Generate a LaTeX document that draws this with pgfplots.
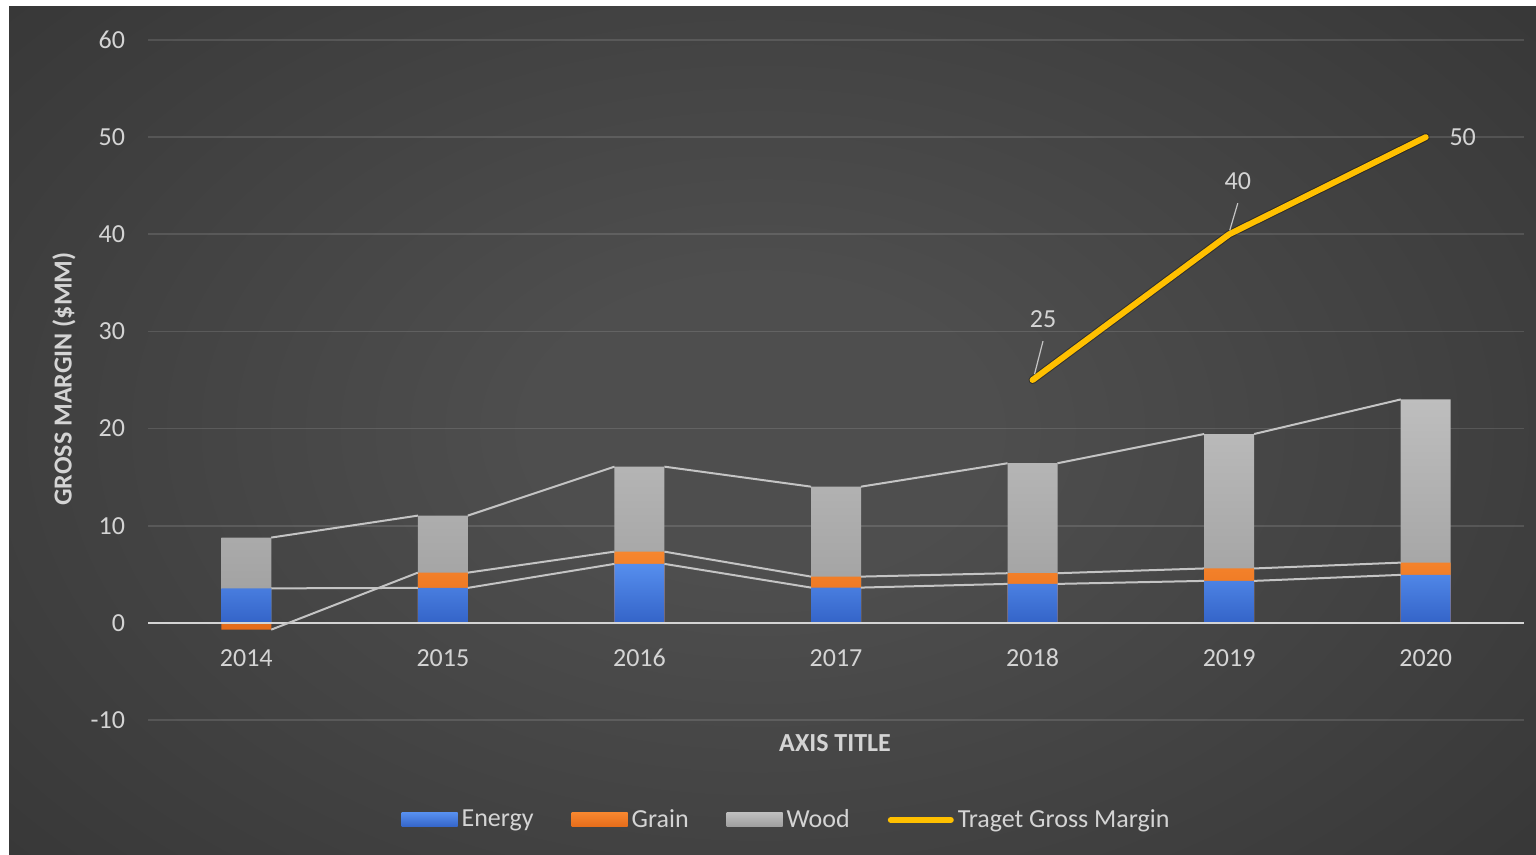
\documentclass[border=0pt]{standalone}
\usepackage{pgfplots}
\pgfplotsset{compat=1.18}
\usepackage{pgfplotstable}
\usepackage{fontspec}
\setmainfont{Carlito}
\definecolor{bgin}{HTML}{4E4E4E}
\definecolor{bgout}{HTML}{1E1E1E}
\definecolor{tickc}{HTML}{D4D4D4}
\definecolor{serc}{HTML}{C4C4C4}
\definecolor{etop}{HTML}{568EEE}
\definecolor{ebot}{HTML}{3464C8}
\definecolor{gtop}{HTML}{F7862E}
\definecolor{gbot}{HTML}{E56C1A}
\definecolor{wtop}{HTML}{BEBEBE}
\definecolor{wbot}{HTML}{9E9E9E}
\definecolor{yel}{HTML}{FFC000}
\pgfdeclareradialshading{bgshade}{\pgfpoint{0bp}{0bp}}{color(0bp)=(bgin); color(6bp)=(bgin); color(50bp)=(bgout)}
\pgfplotstableread{
x E G W
0 3.55 -0.70 5.23
1 3.60 1.57 5.87
2 6.07 1.26 8.75
3 3.63 1.13 9.26
4 4.01 1.10 11.32
5 4.32 1.28 13.84
6 4.94 1.26 16.80
}\gm
\newcommand{\fs}{\fontsize{13}{15}\selectfont}
\begin{document}
\begin{tikzpicture}
\fill[white] (0pt,0pt) rectangle (768pt,427.5pt);
\begin{scope}
\clip (4.5pt,0pt) rectangle (768pt,424pt);
\shade[shading=bgshade] (-95pt,-97.5pt) rectangle (855pt,522.5pt);
\end{scope}
\begin{axis}[
  at={(74pt,67.5pt)}, anchor=south west, scale only axis,
  width=688pt, height=340pt,
  xmin=-0.5, xmax=6.5, ymin=-10, ymax=60,
  xtick={0,1,2,3,4,5,6},
  xticklabels={2014,2015,2016,2017,2018,2019,2020},
  ytick={-10,0,10,20,30,40,50,60},
  axis line style={draw=none}, major tick style={draw=none},
  ymajorgrids, grid style={line width=0.9pt, white, opacity=0.12},
  tick label style={font=\fs, text=tickc},
  /pgf/number format/assume math mode=true,
  xticklabel style={anchor=center, yshift=31pt},
  yticklabel style={xshift=-8pt},
  unbounded coords=jump,
  legend style={at={(0.4648,-0.147)}, anchor=center, draw=none, fill=none,
    font=\fs, text=tickc, legend columns=4,
    /tikz/every even column/.append style={column sep=17pt}},
  legend cell align=left,
]
% legend entries
\addlegendimage{draw=none, legend image code/.code={\path[draw=none, top color=etop, bottom color=ebot] (0pt,-3.5pt) rectangle (28pt,3.5pt);}}
\addlegendentry{Energy}
\addlegendimage{draw=none, legend image code/.code={\path[draw=none, top color=gtop, bottom color=gbot] (0pt,-3.5pt) rectangle (28pt,3.5pt);}}
\addlegendentry{Grain}
\addlegendimage{draw=none, legend image code/.code={\path[draw=none, top color=wtop, bottom color=wbot] (0pt,-3.5pt) rectangle (28pt,3.5pt);}}
\addlegendentry{Wood}
\addlegendimage{draw=none, legend image code/.code={\draw[yel, line width=3pt, line cap=round] (0pt,0pt) -- (30pt,0pt);}}
\addlegendentry{Traget Gross Margin}
% bars (Excel-style stacking, negatives below zero)
\addplot[ybar, bar width=25pt, bar shift=0pt, draw=none, top color=wtop, bottom color=wbot, forget plot]
  table[x=x, y expr={\thisrow{E}+max(\thisrow{G},0)+\thisrow{W}}] {\gm};
\addplot[ybar, bar width=25pt, bar shift=0pt, draw=none, top color=gtop, bottom color=gbot, forget plot]
  table[x=x, y expr={ifthenelse(\thisrow{G}<0,\thisrow{G},\thisrow{E}+\thisrow{G})}] {\gm};
\addplot[ybar, bar width=25pt, bar shift=0pt, draw=none, top color=etop, bottom color=ebot, forget plot]
  table[x=x, y=E] {\gm};
% zero line
\draw[tickc, line width=1.2pt] (axis cs:-0.5,0) -- (axis cs:6.5,0);
% series lines
\addplot[serc, line width=1pt, forget plot] coordinates {
 (0.127,3.55) (0.873,3.60) (1,nan) (1.127,3.60) (1.873,6.07) (2,nan)
 (2.127,6.07) (2.873,3.63) (3,nan) (3.127,3.63) (3.873,4.01) (4,nan)
 (4.127,4.01) (4.873,4.32) (5,nan) (5.127,4.32) (5.873,4.94)};
\addplot[serc, line width=1pt, forget plot] coordinates {
 (0.127,-0.70) (0.873,5.17) (1,nan) (1.127,5.17) (1.873,7.33) (2,nan)
 (2.127,7.33) (2.873,4.76) (3,nan) (3.127,4.76) (3.873,5.11) (4,nan)
 (4.127,5.11) (4.873,5.60) (5,nan) (5.127,5.60) (5.873,6.20)};
\addplot[serc, line width=1pt, forget plot] coordinates {
 (0.127,8.78) (0.873,11.04) (1,nan) (1.127,11.04) (1.873,16.08) (2,nan)
 (2.127,16.08) (2.873,14.02) (3,nan) (3.127,14.02) (3.873,16.43) (4,nan)
 (4.127,16.43) (4.873,19.44) (5,nan) (5.127,19.44) (5.873,23.00)};
% target line
\addplot[black, opacity=0.35, line width=4pt, line cap=round, line join=round, forget plot]
  coordinates {(4,25) (5,40) (6,50)};
\addplot[yel, line width=3pt, line cap=round, line join=round, forget plot]
  coordinates {(4,25) (5,40) (6,50)};
% data labels
\draw[serc, line width=0.6pt] (axis cs:4.053,29.0) -- (axis cs:4.01,25.6);
\draw[serc, line width=0.6pt] (axis cs:5.044,43.2) -- (axis cs:5.003,40.4);
\node[font=\fs, text=tickc] at (axis cs:4.053,31.3) {25};
\node[font=\fs, text=tickc] at (axis cs:5.044,45.5) {40};
\node[font=\fs, text=tickc] at (axis cs:6.188,50.0) {50};
\end{axis}
\node[rotate=90, font=\bfseries\fs, text=tickc] at (32pt,238pt) {GROSS MARGIN (\$MM)};
\node[font=\bfseries\fs, text=tickc] at (417.5pt,56pt) {AXIS TITLE};
\end{tikzpicture}
\end{document}
